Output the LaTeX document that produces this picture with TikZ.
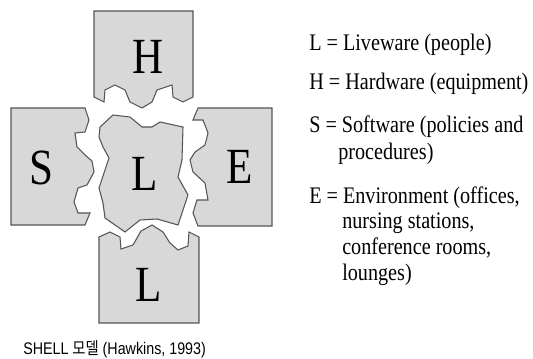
\documentclass[tikz,border=0pt]{standalone}
\usepackage{fontspec}
\setmainfont{Liberation Serif}
\newfontfamily\serifc[FakeStretch=0.85]{Liberation Serif}
\newfontfamily\capfont[FakeStretch=0.85]{Liberation Sans}
\newfontfamily\krfont[FakeStretch=0.85]{Noto Sans CJK KR}
\definecolor{blockfill}{RGB}{216,216,216}
\definecolor{blockline}{RGB}{85,85,85}
\tikzset{
  block/.style={fill=blockfill, draw=blockline, line width=0.8pt, line join=miter},
  bigletter/.style={anchor=base, inner sep=0pt, font=\serifc\fontsize{38}{42}\selectfont},
  legend/.style={anchor=base west, inner sep=0pt, font=\serifc\fontsize{17.8}{20}\selectfont},
  captext/.style={anchor=base west, inner sep=0pt}
}
\begin{document}
\begin{tikzpicture}[x=0.75pt, y=-0.75pt]
\useasboundingbox (0,0) rectangle (533,359);
% H block
\draw[block] (94,11) -- (193,11) -- (193,97) -- (183,102) -- (173,97) -- (172,85) -- (157,90) -- (152,102) -- (142,108) -- (130,102) -- (125,90) -- (115,85) -- (105,90) -- (104,102) -- (94,97) -- cycle;
% S block
\draw[block] (11,108) -- (85,108) -- (89,120) -- (85,132) -- (75,133) -- (77,147) -- (85,155) -- (92,161) -- (94,172) -- (87,185) -- (78,188) -- (74,202) -- (78,213) -- (90,213) -- (85,225) -- (11,225) -- cycle;
% E block
\draw[block] (198,108) -- (272,108) -- (272,226) -- (198,226) -- (193,213) -- (197,200) -- (208,200) -- (205,183) -- (193,172) -- (190,160) -- (195,152) -- (205,145) -- (208,133) -- (203,120) -- (193,120) -- cycle;
% central L block
\draw[block] (100,127) -- (113,115) -- (130,117) -- (142,127) -- (152,127) -- (160,122) -- (183,127) -- (182,160) -- (178,177) -- (188,195) -- (178,225) -- (157,219) -- (140,220) -- (125,232) -- (105,218) -- (103,203) -- (99,188) -- (109,158) -- (103,147) -- (99,137) -- cycle;
% bottom L block
\draw[block] (99,237) -- (110,232) -- (120,237) -- (121,249) -- (133,245) -- (141,231) -- (152,225) -- (163,232) -- (170,243) -- (178,250) -- (188,246) -- (189,232) -- (199,237) -- (199,323) -- (99,323) -- cycle;
% letters
\node[bigletter] (lh) at (148,74) {H};
\node[bigletter] (ls) at (41,185) {S};
\node[bigletter] (le) at (239.5,183.5) {E};
\node[bigletter] (llc) at (145,190.5) {L};
\node[bigletter] (llb) at (149,301.5) {L};
% legend
\node[legend] (t1) at (309,51) {L = Liveware (people)};
\node[legend] (t2) at (309,90) {H = Hardware (equipment)};
\node[legend] (t3) at (309,133) {S = Software (policies and};
\node[legend] (t4) at (338,160) {procedures)};
\node[legend] (t5) at (309,204) {E = Environment (offices,};
\node[legend] (t6) at (342,229) {nursing stations,};
\node[legend] (t7) at (342,255) {conference rooms,};
\node[legend] (t8) at (342,281) {lounges)};
% caption
\node[captext] (cap) at (23,355) {\fontsize{12.6}{14}\selectfont\capfont SHELL {\krfont 모델} (Hawkins, 1993)};
\end{tikzpicture}
\end{document}
